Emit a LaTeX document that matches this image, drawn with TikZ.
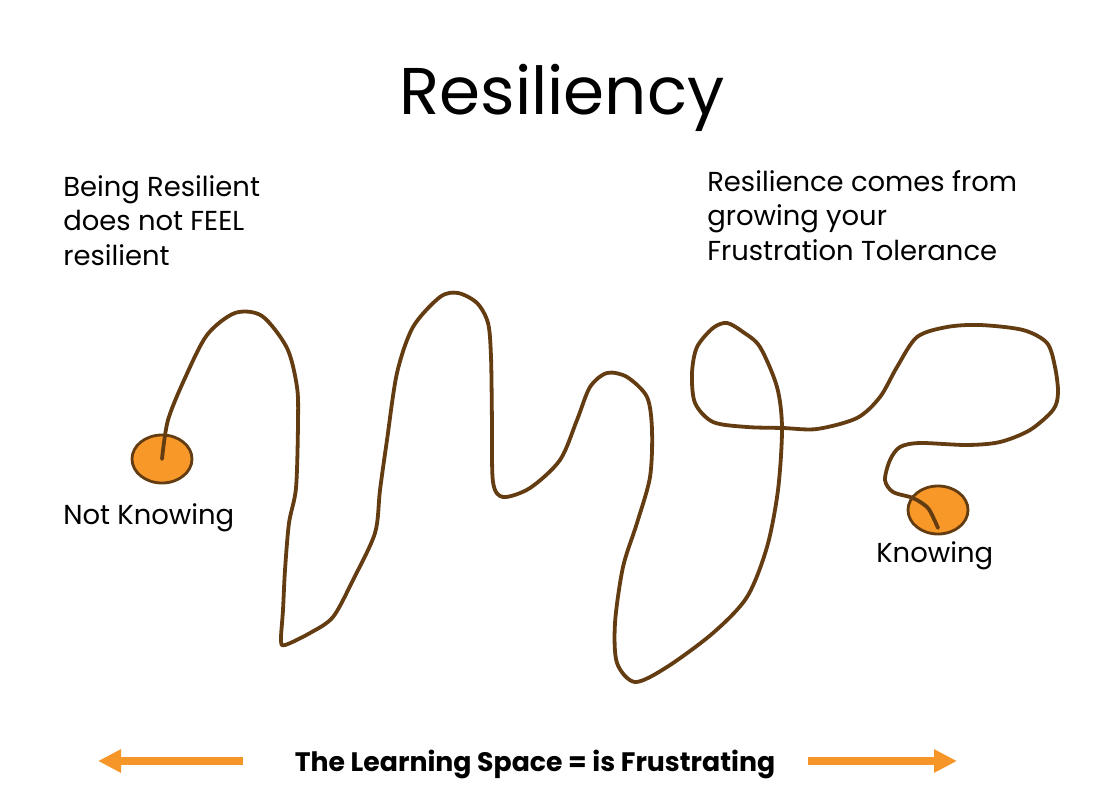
\documentclass[tikz,border=0pt]{standalone}
\usepackage{fontspec}
\setmainfont{Poppins}
\usetikzlibrary{shapes.geometric, arrows.meta, positioning}
\definecolor{trailcol}{RGB}{99,60,18}
\definecolor{dotfill}{RGB}{247,152,41}
\definecolor{arrowcol}{RGB}{247,150,40}

\begin{document}
\begin{tikzpicture}[
    x=0.025cm, y=-0.025cm,
    heading/.style = {font=\fontsize{47}{56}\selectfont, anchor=base,
                      inner sep=0pt},
    note/.style    = {font=\fontsize{19.5}{24.2}\selectfont, align=left,
                      anchor=base west, inner sep=0pt},
    banner/.style  = {font=\bfseries\fontsize{19}{24}\selectfont,
                      anchor=base, inner sep=0pt},
    stone/.style   = {ellipse, fill=dotfill, draw=trailcol, line width=2pt,
                      minimum width=1.5cm, minimum height=1.2cm, inner sep=0pt},
    trail/.style   = {draw=trailcol, line width=2.7pt, line join=round,
                      line cap=round},
    arrow/.style   = {-{Triangle[length=0.575cm, width=0.55cm]},
                      line width=0.2cm, color=arrowcol},
]

\useasboundingbox[fill=white] (0,0) rectangle (1096,801);

% ── Title and side notes ────────────────────────────────────────
\node[heading] (title) at (562,115) {Resiliency};

% base anchor sits on the last line
\node[note] (feel) at (63,265)
    {Being Resilient\\does not FEEL\\resilient};
\node[note] (grow) at (707,260)
    {Resilience comes from\\growing your\\Frustration Tolerance};

% ── Start and end points ────────────────────────────────────────
\node[stone] (notknow) at (162,459) {};
\node[stone] (know)    at (938,510) {};

\node[note] (notknowtxt) at (63,524) {Not Knowing};
\node[note] (knowtxt)    at (876,562) {Knowing};

% ── The winding path ────────────────────────────────────────────
\draw[trail] plot[smooth, tension=0.5] coordinates {
    (notknow.center) (168,420) (185,378) (207,335) (235,313) (262,316)
    (287,348) (297,387) (298,423) (296,488) (289,523) (285,570) (283,610)
    (281,640) (285,645) (310,633) (333,617) (353,580) (375,533) (380,490)
    (387,440) (397,373) (413,327) (440,297) (458,293) (477,303) (488,323)
    (491,357) (492,423) (493,482) (503,497) (530,488) (560,460) (577,420)
    (590,387) (607,373) (627,377) (647,397) (652,430) (650,477) (637,523)
    (623,567) (615,623) (617,663) (635,682) (667,667) (713,633) (747,597)
    (767,547) (778,490) (782,428) (777,387) (760,347) (743,332) (727,323)
    (713,328) (697,347) (692,373) (695,403) (713,422) (747,427) (783,428)
    (817,429) (857,418) (880,397) (897,367) (917,337) (947,327) (980,325)
    (1023,330) (1047,343) (1055,367) (1058,393) (1053,410) (1030,430)
    (1000,442) (967,445) (920,443) (900,447) (890,460) (885,480) (893,492)
    (913,498) (927,507) (933,517) (938,528)};

% ── Bottom banner ───────────────────────────────────────────────
\node[banner] (space) at (535,771) {The Learning Space = is Frustrating};

\coordinate (lstart) at (243,761);
\coordinate (lend)   at (98,761);
\coordinate (rstart) at (808,761);
\coordinate (rend)   at (957,761);

\draw[arrow] (lstart) -- (lend);
\draw[arrow] (rstart) -- (rend);

\end{tikzpicture}
\end{document}
